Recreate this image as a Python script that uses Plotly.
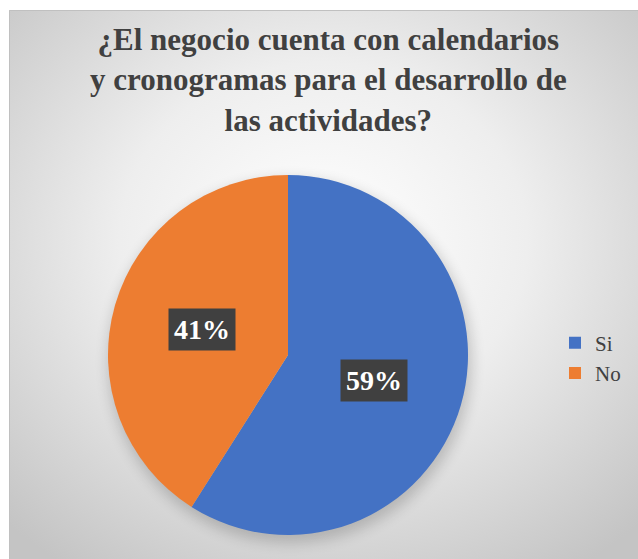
import math
import base64
import plotly.graph_objects as go

# Survey answers
categories = ["Si", "No"]
shares = [59, 41]
colors = ["#4472C4", "#ED7D31"]
title_lines = [
    "¿El negocio cuenta con calendarios",
    "y cronogramas para el desarrollo de",
    "las actividades?",
]

W, H = 638, 559
FONT = "Times New Roman, Liberation Serif, serif"

# Chart panel (pixels) and pie placement
panel = dict(x0=9, y0=10, x1=W, y1=H)
pie_cx, pie_cy, pie_r = 288, 355, 180

def px_x(x):
    return x / W

def px_y(y):
    return 1 - y / H

# Radial-gradient panel background with a soft halo under the pie, as an SVG image
svg = f"""<svg xmlns='http://www.w3.org/2000/svg' width='{panel['x1']-panel['x0']}' height='{panel['y1']-panel['y0']}'>
<defs>
<radialGradient id='g' cx='50%' cy='42%' r='72%'>
<stop offset='0%' stop-color='#ffffff'/>
<stop offset='45%' stop-color='#eeeeee'/>
<stop offset='100%' stop-color='#c4c4c4'/>
</radialGradient>
<filter id='b' x='-20%' y='-20%' width='140%' height='140%'><feGaussianBlur stdDeviation='7'/></filter>
</defs>
<rect width='100%' height='100%' fill='url(#g)'/>
<circle cx='{pie_cx - panel['x0'] + 2}' cy='{pie_cy - panel['y0'] + 6}' r='{pie_r + 2}' fill='#000' opacity='0.18' filter='url(#b)'/>
</svg>"""
svg_uri = "data:image/svg+xml;base64," + base64.b64encode(svg.encode("utf-8")).decode("ascii")

fig = go.Figure()
fig.add_trace(go.Pie(
    labels=categories,
    values=shares,
    marker=dict(colors=colors, line=dict(width=0)),
    sort=False,
    direction="clockwise",
    rotation=0,
    textinfo="none",
    hoverinfo="label+percent",
    domain=dict(x=[px_x(pie_cx - pie_r), px_x(pie_cx + pie_r)],
                y=[px_y(pie_cy + pie_r), px_y(pie_cy - pie_r)]),
))

# Percentage labels in dark boxes, placed halfway out along each slice's mid-angle
total = sum(shares)
start = 0.0
for cat, val in zip(categories, shares):
    mid = (start + val / 2) / total * 2 * math.pi
    start += val
    lx = pie_cx + 0.5 * pie_r * math.sin(mid)
    ly = pie_cy - 0.5 * pie_r * math.cos(mid)
    fig.add_annotation(
        x=px_x(lx), y=px_y(ly), xref="paper", yref="paper",
        xanchor="center", yanchor="middle",
        text=f"<b>{round(val / total * 100)}%</b>", showarrow=False,
        font=dict(family=FONT, size=28, color="#ffffff"),
        bgcolor="#404040", borderpad=5,
    )

# Chart title
fig.add_annotation(
    x=px_x(328), y=px_y(20), xref="paper", yref="paper",
    xanchor="center", yanchor="top", align="center",
    text="<b>" + "<br>".join(title_lines) + "</b>", showarrow=False,
    font=dict(family=FONT, size=31, color="#404040"),
)

fig.update_layout(
    width=W, height=H,
    margin=dict(l=0, r=0, t=0, b=0),
    paper_bgcolor="#ffffff",
    plot_bgcolor="rgba(0,0,0,0)",
    legend=dict(
        x=px_x(555), y=px_y(358), xanchor="left", yanchor="middle",
        font=dict(family=FONT, size=21, color="#404040"),
        bgcolor="rgba(0,0,0,0)",
    ),
    images=[dict(
        source=svg_uri, xref="paper", yref="paper",
        x=px_x(panel["x0"]), y=px_y(panel["y0"]),
        sizex=px_x(panel["x1"]) - px_x(panel["x0"]),
        sizey=px_y(panel["y0"]) - px_y(panel["y1"]),
        xanchor="left", yanchor="top", sizing="stretch", layer="below",
    )],
    shapes=[dict(
        type="rect", xref="paper", yref="paper",
        x0=px_x(panel["x0"] + 0.5), x1=px_x(panel["x1"] + 2),
        y0=px_y(panel["y1"] + 2), y1=px_y(panel["y0"] + 0.5),
        line=dict(color="#c0c0c0", width=1), fillcolor="rgba(0,0,0,0)",
    )],
)

fig.write_html("out.html")
